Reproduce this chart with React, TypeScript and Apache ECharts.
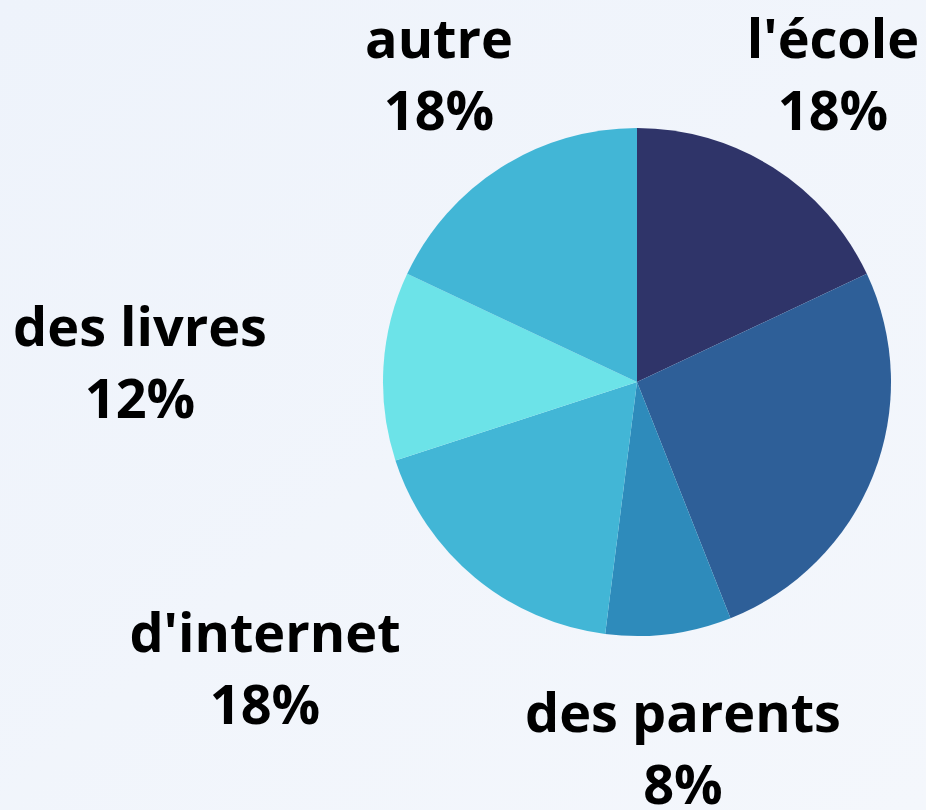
import React, { useEffect, useRef } from "react";
import * as echarts from "echarts";

const categories = ["l'école", "des amis", "des parents", "d'internet", "des livres", "autre"];
const values = [18, 26, 8, 18, 12, 18];
const colors = ["#2f3469", "#2e5f98", "#2e8bbb", "#42b6d6", "#6ce3e8", "#42b6d6"];
const showLabel = [true, false, true, true, true, true];
const labelPos: [number, number][] = [
  [833, 73],
  [0, 0],
  [683, 747],
  [265, 667],
  [140, 361],
  [439, 73],
];

export default function App() {
  const ref = useRef<HTMLDivElement>(null);
  useEffect(() => {
    if (!ref.current) return;
    const chart = echarts.init(ref.current, null, { renderer: "svg" });
    chart.setOption({
      animation: false,
      backgroundColor: {
        type: "linear",
        x: 0,
        y: 0,
        x2: 1,
        y2: 1,
        colorStops: [
          { offset: 0, color: "#eef3fb" },
          { offset: 1, color: "#f4f7fc" },
        ],
      },
      series: [
        {
          type: "pie",
          center: [637, 382],
          radius: [0, 254],
          startAngle: 90,
          clockwise: true,
          data: categories.map((name, i) => ({
            name,
            value: values[i],
            itemStyle: { color: colors[i] },
            label: { show: showLabel[i] },
          })),
          label: {
            position: "outside",
            formatter: "{b}\n{d}%",
            fontFamily: "Open Sans",
            fontWeight: "bold",
            fontSize: 54,
            lineHeight: 72,
            color: "#000",
            align: "center",
            overflow: "none",
            width: 400,
          },
          labelLine: { show: false },
          labelLayout: (params: any) => {
            const p = labelPos[params.dataIndex];
            return { x: p[0], y: p[1], align: "center", verticalAlign: "middle" };
          },
        },
      ],
    });
    return () => chart.dispose();
  }, []);
  return (
    <div
      ref={ref}
      style={{ position: "absolute", left: 0, top: 0, width: 926, height: 810 }}
    />
  );
}
